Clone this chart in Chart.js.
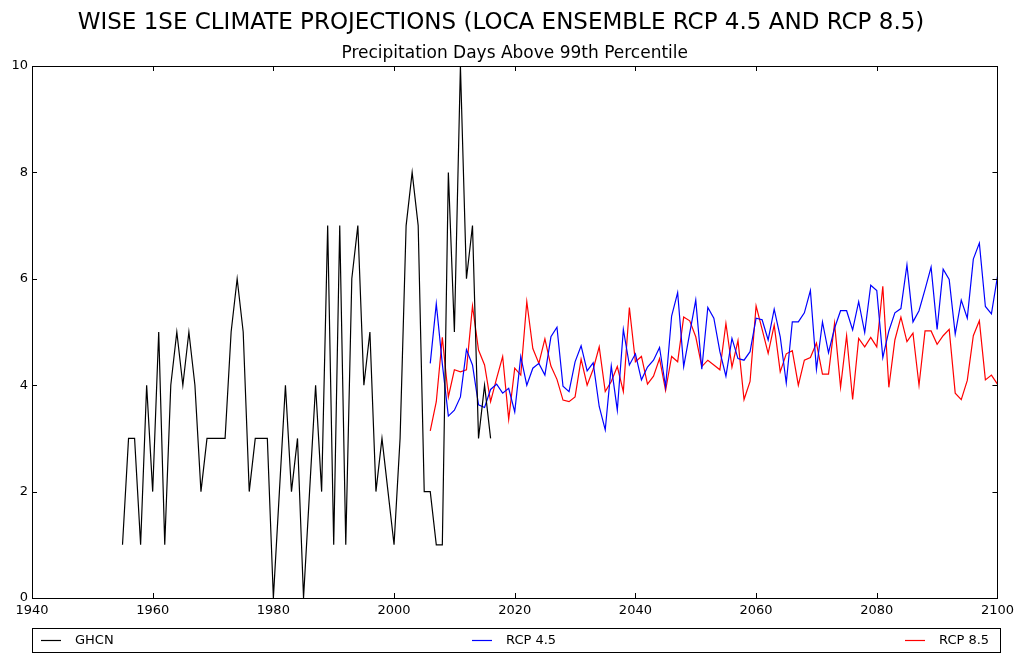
<!DOCTYPE html>
<html lang="en">
<head>
    <meta charset="UTF-8">
    <title>WISE 1SE Climate Projections</title>
    <script src="https://cdn.jsdelivr.net/npm/chart.js"></script>
    <style>
        html, body { margin: 0; padding: 0; background: #fff; }
    </style>
</head>
<body>
    <canvas id="myChart" width="1019" height="654"></canvas>
    <script>
        // observed station counts, one per year from 1955
        const ghcnStart = 1955;
        const ghcnVals = [1, 3, 3, 1, 4, 2, 5, 1, 4, 5, 4, 5, 4, 2, 3, 3, 3, 3, 5, 6,
            5, 2, 3, 3, 3, 0, 2, 4, 2, 3, 0, 2, 4, 2, 7, 1, 7, 1, 6, 7,
            4, 5, 2, 3, 2, 1, 3, 7, 8, 7, 2, 2, 1, 1, 8, 5, 10, 6, 7, 3,
            4, 3];

        // LOCA ensemble means, one per year from 2006 to 2100
        const projStart = 2006;
        const rcp45Vals = [4.41, 5.53, 4.4, 3.42, 3.53, 3.78, 4.67, 4.38, 3.63, 3.58,
            3.92, 4.02, 3.85, 3.94, 3.50, 4.54, 4.00, 4.32, 4.41, 4.19,
            4.91, 5.09, 3.98, 3.88, 4.44, 4.74, 4.27, 4.42, 3.60, 3.16,
            4.36, 3.53, 5.05, 4.38, 4.59, 4.10, 4.34, 4.47, 4.71, 3.97,
            5.30, 5.74, 4.35, 4.98, 5.60, 4.30, 5.46, 5.26, 4.63, 4.17,
            4.88, 4.50, 4.47, 4.63, 5.26, 5.23, 4.85, 5.43, 4.91, 4.04,
            5.19, 5.19, 5.36, 5.78, 4.30, 5.19, 4.61, 5.07, 5.40, 5.40,
            5.04, 5.57, 4.99, 5.88, 5.78, 4.52, 5.02, 5.36, 5.44, 6.26,
            5.19, 5.40, 5.80, 6.22, 5.05, 6.18, 5.99, 4.96, 5.60, 5.26,
            6.37, 6.67, 5.48, 5.34, 6.04];
        const rcp85Vals = [3.14, 3.69, 4.90, 3.78, 4.29, 4.25, 4.29, 5.49, 4.66, 4.38,
            3.69, 4.13, 4.54, 3.36, 4.32, 4.19, 5.57, 4.69, 4.41, 4.87,
            4.36, 4.11, 3.72, 3.69, 3.78, 4.49, 4.00, 4.30, 4.72, 3.88,
            4.07, 4.35, 3.88, 5.46, 4.44, 4.54, 4.02, 4.17, 4.50, 3.90,
            4.54, 4.44, 5.28, 5.21, 4.91, 4.35, 4.47, 4.38, 4.29, 5.16,
            4.34, 4.84, 3.73, 4.07, 5.49, 5.05, 4.60, 5.13, 4.25, 4.59,
            4.65, 4.00, 4.47, 4.52, 4.79, 4.21, 4.21, 5.16, 3.96, 4.93,
            3.73, 4.88, 4.72, 4.90, 4.72, 5.86, 3.96, 4.85, 5.28, 4.82,
            4.98, 4.00, 5.02, 5.02, 4.77, 4.93, 5.05, 3.85, 3.73, 4.09,
            4.93, 5.21, 4.10, 4.19, 4.02];

        const seriesNames = ['GHCN', 'RCP 4.5', 'RCP 8.5'];
        const seriesColors = ['#000000', '#0000ff', '#ff0000'];
        const xTicks = [1940, 1960, 1980, 2000, 2020, 2040, 2060, 2080, 2100];
        const yTicks = [0, 2, 4, 6, 8, 10];

        const mainTitle = 'WISE 1SE CLIMATE PROJECTIONS (LOCA ENSEMBLE RCP 4.5 AND RCP 8.5)';
        const subTitle = 'Precipitation Days Above 99th Percentile';

        function toPoints(start, vals) {
            return vals.map((v, i) => ({ x: start + i, y: v }));
        }

        const FONT = '"DejaVu Sans", "Liberation Sans", sans-serif';

        // matplotlib look: frame, inward ticks, titles and an expanded legend box
        const mplDecor = {
            id: 'mplDecor',
            afterDatasetsDraw(chart) {
                const ctx = chart.ctx;
                const a = chart.chartArea;
                const xs = chart.scales.x, ys = chart.scales.y;
                ctx.save();
                ctx.strokeStyle = '#000';
                ctx.lineWidth = 1;
                ctx.beginPath();
                xTicks.forEach(v => {
                    const px = Math.round(xs.getPixelForValue(v)) + 0.5;
                    ctx.moveTo(px, a.bottom); ctx.lineTo(px, a.bottom - 5);
                    ctx.moveTo(px, a.top); ctx.lineTo(px, a.top + 5);
                });
                yTicks.forEach(v => {
                    const py = Math.round(ys.getPixelForValue(v)) + 0.5;
                    ctx.moveTo(a.left, py); ctx.lineTo(a.left + 5, py);
                    ctx.moveTo(a.right, py); ctx.lineTo(a.right - 5, py);
                });
                ctx.stroke();
                ctx.strokeRect(Math.round(a.left) + 0.5, Math.round(a.top) + 0.5,
                    Math.round(a.right - a.left), Math.round(a.bottom - a.top));
                ctx.restore();
            },
            afterDraw(chart) {
                const ctx = chart.ctx;
                const a = chart.chartArea;
                ctx.save();
                ctx.fillStyle = '#000';
                ctx.textBaseline = 'middle';
                ctx.textAlign = 'center';
                ctx.font = '23px ' + FONT;
                ctx.fillText(mainTitle, 501, 23);
                ctx.font = '17px ' + FONT;
                ctx.fillText(subTitle, (a.left + a.right) / 2, 54);

                // legend box spanning the axes width
                const top = 628, h = 24;
                ctx.strokeStyle = '#000';
                ctx.lineWidth = 1;
                ctx.strokeRect(Math.round(a.left) + 0.5, top + 0.5, Math.round(a.right - a.left) + 3, h);
                const lineX = [41, 472, 905];
                ctx.font = '13px ' + FONT;
                ctx.textAlign = 'left';
                chart.data.datasets.forEach((ds, i) => {
                    const cy = top + h / 2 + 0.5;
                    ctx.strokeStyle = ds.borderColor;
                    ctx.lineWidth = 1.2;
                    ctx.beginPath();
                    ctx.moveTo(lineX[i], cy);
                    ctx.lineTo(lineX[i] + 20, cy);
                    ctx.stroke();
                    ctx.fillText(ds.label, lineX[i] + 34, cy);
                });
                ctx.restore();
            }
        };

        const ctx = document.getElementById('myChart');
        new Chart(ctx, {
            type: 'line',
            data: {
                datasets: [
                    { label: seriesNames[0], data: toPoints(ghcnStart, ghcnVals) },
                    { label: seriesNames[1], data: toPoints(projStart, rcp45Vals) },
                    { label: seriesNames[2], data: toPoints(projStart, rcp85Vals) }
                ].map((d, i) => Object.assign(d, {
                    borderColor: seriesColors[i],
                    backgroundColor: seriesColors[i],
                    borderWidth: 1.2,
                    pointRadius: 0,
                    tension: 0,
                    fill: false
                }))
            },
            options: {
                responsive: false,
                animation: false,
                devicePixelRatio: 1,
                layout: { padding: { top: 66, right: 19, left: 0, bottom: 0 } },
                plugins: {
                    legend: { display: false },
                    title: { display: false },
                    tooltip: { enabled: false }
                },
                scales: {
                    x: {
                        type: 'linear',
                        min: 1940,
                        max: 2100,
                        afterBuildTicks(scale) { scale.ticks = xTicks.map(v => ({ value: v })); },
                        afterFit(scale) { scale.height = 56; },
                        grid: { display: false, drawTicks: false },
                        border: { display: false },
                        ticks: {
                            padding: 5,
                            color: '#000',
                            font: { family: FONT, size: 13 },
                            callback: v => String(v),
                            maxRotation: 0
                        }
                    },
                    y: {
                        min: 0,
                        max: 10,
                        afterBuildTicks(scale) { scale.ticks = yTicks.map(v => ({ value: v })); },
                        afterFit(scale) { scale.width = 32; },
                        grid: { display: false, drawTicks: false },
                        border: { display: false },
                        ticks: {
                            padding: 4,
                            color: '#000',
                            font: { family: FONT, size: 13 }
                        }
                    }
                }
            },
            plugins: [mplDecor]
        });
    </script>
</body>
</html>
